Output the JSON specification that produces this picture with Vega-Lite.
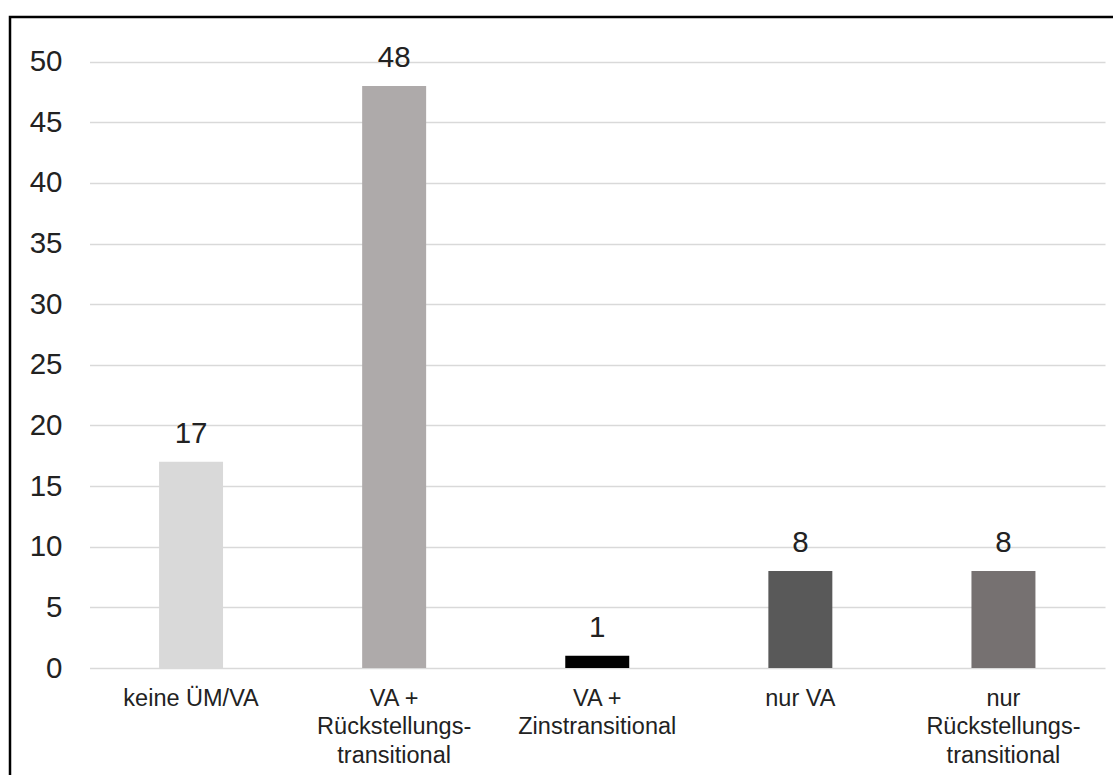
{
  "$schema": "https://vega.github.io/schema/vega-lite/v6.json",
  "autosize": "none",
  "padding": {"left": 10, "top": 17, "right": 0, "bottom": 0},
  "width": 1110,
  "height": 765,
  "background": "white",
  "config": {
    "view": {"stroke": "#000000", "strokeWidth": 2.5},
    "font": "Liberation Sans"
  },
  "data": {
    "values": [
      {"kategorie": "keine ÜM/VA", "anzahl": 17},
      {"kategorie": "VA +\nRückstellungs-\ntransitional", "anzahl": 48},
      {"kategorie": "VA +\nZinstransitional", "anzahl": 1},
      {"kategorie": "nur VA", "anzahl": 8},
      {"kategorie": "nur\nRückstellungs-\ntransitional", "anzahl": 8}
    ]
  },
  "encoding": {
    "x": {
      "field": "kategorie",
      "type": "nominal",
      "sort": null,
      "scale": {"range": [79.5, 1095], "paddingInner": 0.685, "paddingOuter": 0.3425},
      "axis": {
        "title": null,
        "domain": false,
        "ticks": false,
        "grid": false,
        "labelAngle": 0,
        "labelExpr": "split(datum.label, '\\n')",
        "labelFontSize": 23.5,
        "labelLineHeight": 28.5,
        "labelPadding": 18,
        "labelColor": "#222222",
        "labelBaseline": "top",
        "offset": -114
      }
    },
    "y": {
      "field": "anzahl",
      "type": "quantitative",
      "scale": {"domain": [0, 50], "range": [651, 44.7], "nice": false},
      "axis": {
        "title": null,
        "domain": false,
        "ticks": false,
        "values": [0, 5, 10, 15, 20, 25, 30, 35, 40, 45, 50],
        "grid": true,
        "gridColor": "#d9d9d9",
        "gridWidth": 1.5,
        "labelFontSize": 29.5,
        "labelPadding": 27.5,
        "labelColor": "#222222",
        "offset": -79.5
      }
    }
  },
  "layer": [
    {
      "mark": {"type": "bar"},
      "encoding": {
        "color": {
          "field": "kategorie",
          "type": "nominal",
          "sort": null,
          "scale": {"range": ["#d9d9d9", "#aeaaaa", "#000000", "#595959", "#767171"]},
          "legend": null
        }
      }
    },
    {
      "mark": {"type": "text", "dy": -19, "baseline": "alphabetic", "fontSize": 29.5, "color": "#222222"},
      "encoding": {"text": {"field": "anzahl", "type": "quantitative"}}
    }
  ]
}
